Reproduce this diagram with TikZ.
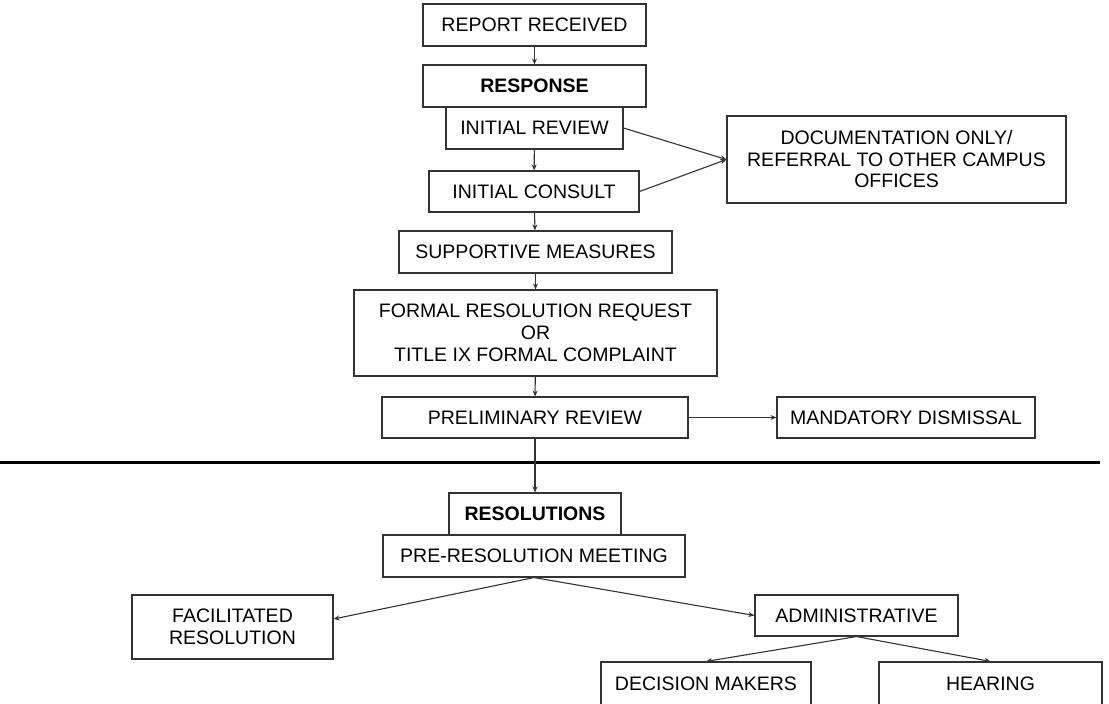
\documentclass[tikz,border=0pt]{standalone}
\usepackage{fontspec}
\setmainfont{Liberation Sans}
\usetikzlibrary{arrows.meta,calc}
\begin{document}
\begin{tikzpicture}[x=1pt,y=-1pt,
  box/.style={draw=black!80,line width=1.1pt,rectangle,inner sep=0pt,align=center,
    font=\fontsize{19.5}{22}\selectfont,text=black},
  conn/.style={draw=black!80,line width=1.1pt,-{Stealth[length=6pt,width=5pt]}},
  sep/.style={draw=black,line width=3pt}]
\useasboundingbox (0,0) rectangle (1109,704);
\node[box,minimum width=223,minimum height=42] (report) at (534.5,25) {REPORT RECEIVED};
\node[box,minimum width=223,minimum height=42,font=\fontsize{19.5}{22}\selectfont\bfseries] (response) at (534.5,86) {RESPONSE};
\node[box,minimum width=177,minimum height=42] (review) at (534.5,128) {INITIAL REVIEW};
\node[box,minimum width=210,minimum height=41] (consult) at (534,191.5) {INITIAL CONSULT};
\node[box,minimum width=339,minimum height=87,font=\fontsize{19.5}{21.5}\selectfont] (doc) at (896.5,159.5) {DOCUMENTATION ONLY/\\REFERRAL TO OTHER CAMPUS\\OFFICES};
\node[box,minimum width=273,minimum height=42] (supp) at (535.5,252) {SUPPORTIVE MEASURES};
\node[box,minimum width=363,minimum height=86] (formal) at (535.5,333) {FORMAL RESOLUTION REQUEST\\OR\\TITLE IX FORMAL COMPLAINT};
\node[box,minimum width=306,minimum height=41] (prelim) at (535,417.5) {PRELIMINARY REVIEW};
\node[box,minimum width=258,minimum height=41] (mand) at (906,417.5) {MANDATORY DISMISSAL};
\coordinate (lineL) at (0,462);
\coordinate (lineR) at (1100,462);
\draw[sep] (lineL) -- (lineR);
\node[box,minimum width=172,minimum height=42,font=\fontsize{19.5}{22}\selectfont\bfseries] (resol) at (535,514) {RESOLUTIONS};
\node[box,minimum width=302,minimum height=42] (preres) at (534,556) {PRE-RESOLUTION MEETING};
\node[box,minimum width=201,minimum height=64] (facil) at (232.5,627) {FACILITATED\\RESOLUTION};
\node[box,minimum width=203,minimum height=41] (admin) at (856.5,615.5) {ADMINISTRATIVE};
\node[box,minimum width=210,minimum height=44] (dec) at (706,684) {DECISION MAKERS};
\node[box,minimum width=223,minimum height=44] (hear) at (990.5,684) {HEARING};
\draw[conn] (report) -- (response);
\draw[conn] (review) -- (consult);
\draw[conn] (review.east) -- (doc.west);
\draw[conn] (consult.east) -- (doc.west);
\draw[conn] (consult) -- (supp);
\draw[conn] (supp) -- (formal);
\draw[conn] (formal) -- (prelim);
\draw[conn] (prelim) -- (mand);
\draw[conn] (prelim) -- (resol);
\draw[conn] (preres.south) -- ($(facil.east)+(0,-8)$);
\draw[conn] (preres.south) -- (admin.west);
\draw[conn] (admin.south) -- (dec.north);
\draw[conn] (admin.south) -- (hear.north);
\end{tikzpicture}
\end{document}
